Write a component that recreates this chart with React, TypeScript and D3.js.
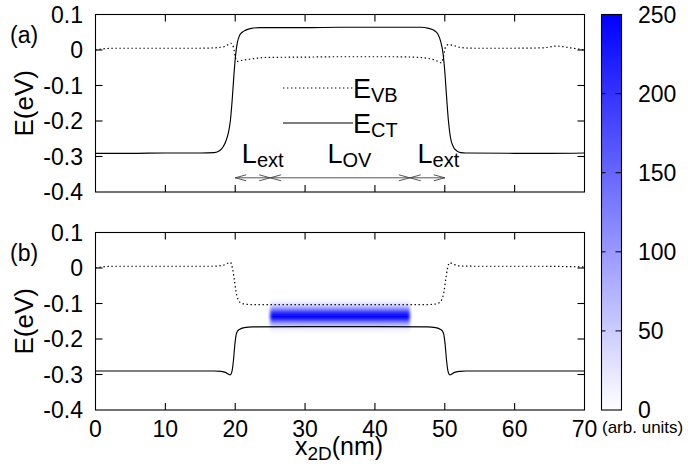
import React from 'react';
import * as d3 from 'd3';

const W = 688;
const H = 466;
const FONT = '"Liberation Sans", Arial, Helvetica, sans-serif';

// axis ticks
const X_TICKS = [0, 10, 20, 30, 40, 50, 60, 70];
const Y_TICKS = [0.1, 0, -0.1, -0.2, -0.3, -0.4];
const Y_TICK_LABELS = ['0.1', '0', '-0.1', '-0.2', '-0.3', '-0.4'];
const CB_TICKS = [0, 50, 100, 150, 200, 250];

// panel (a): conduction-band edge E_CT
const CT_A_X = [0, 5, 10, 15, 17, 17.8, 18.3, 18.7, 19.0, 19.3, 19.55, 19.8, 20.05, 20.3, 20.6, 21.0, 21.5, 22.3, 23.5, 30, 35, 40, 46.5, 47.7, 48.5, 49.0, 49.4, 49.75, 50.0, 50.25, 50.5, 50.8, 51.2, 51.7, 52.3, 53, 60, 65, 70];
const CT_A_Y = [-0.291, -0.291, -0.29, -0.29, -0.289, -0.283, -0.272, -0.255, -0.235, -0.2, -0.145, -0.075, -0.015, 0.02, 0.04, 0.05, 0.056, 0.061, 0.063, 0.063, 0.064, 0.064, 0.064, 0.061, 0.055, 0.045, 0.025, -0.01, -0.06, -0.13, -0.195, -0.245, -0.272, -0.284, -0.289, -0.29, -0.291, -0.291, -0.29];

// panel (a): valence-band edge E_VB
const VB_A_X = [0, 1, 3, 10, 15, 17, 18.5, 19.4, 19.75, 20.0, 20.25, 20.7, 22, 24.5, 30, 35, 42, 45.5, 48.2, 49.0, 49.5, 49.8, 50.1, 50.5, 51.2, 52.3, 54, 60, 64, 66, 68, 70];
const VB_A_Y = [0.0, 0.003, 0.005, 0.005, 0.005, 0.006, 0.01, 0.019, 0.008, -0.018, -0.032, -0.03, -0.026, -0.021, -0.02, -0.019, -0.019, -0.02, -0.026, -0.032, -0.036, -0.02, 0.008, 0.015, 0.013, 0.007, 0.005, 0.005, 0.006, 0.011, 0.006, 0.0];

// panel (b): conduction-band edge E_CT
const CT_B_X = [0, 10, 17, 18.0, 18.6, 19.0, 19.3, 19.55, 19.75, 19.95, 20.2, 20.6, 21.3, 22.5, 30, 35, 40, 47.5, 48.7, 49.4, 49.8, 50.05, 50.25, 50.45, 50.7, 51.0, 51.4, 52.2, 53, 60, 70];
const CT_B_Y = [-0.29, -0.29, -0.29, -0.291, -0.294, -0.299, -0.301, -0.29, -0.26, -0.215, -0.183, -0.173, -0.168, -0.166, -0.165, -0.165, -0.165, -0.166, -0.168, -0.173, -0.183, -0.215, -0.26, -0.29, -0.301, -0.299, -0.294, -0.291, -0.29, -0.29, -0.29];

// panel (b): valence-band edge E_VB
const VB_B_X = [0, 1, 3, 10, 17, 18.3, 19.0, 19.3, 19.6, 19.85, 20.1, 20.4, 20.8, 21.5, 22.5, 30, 35, 40, 47.5, 48.5, 49.2, 49.6, 49.9, 50.15, 50.4, 50.7, 51.2, 52, 54, 63, 70];
const VB_B_Y = [0.0, 0.003, 0.005, 0.005, 0.005, 0.008, 0.014, 0.016, 0.0, -0.03, -0.065, -0.088, -0.098, -0.102, -0.103, -0.103, -0.103, -0.103, -0.103, -0.102, -0.098, -0.088, -0.065, -0.03, 0.0, 0.015, 0.011, 0.006, 0.005, 0.005, 0.003];

// panel (b): carrier density, spread over the overlap region
const DENS_X_RANGE = [25, 45];
const DENS_E = [-0.09, -0.095, -0.1, -0.105, -0.11, -0.115, -0.12, -0.125, -0.13, -0.135, -0.14, -0.145, -0.15, -0.155, -0.16, -0.165, -0.17, -0.175, -0.18];
const DENS_V = [5, 12, 25, 45, 75, 110, 170, 220, 242, 250, 244, 222, 170, 110, 75, 45, 25, 12, 5];

// dimension arrows (nm) and their labels
const ARROW_SEGMENTS: [number, number][] = [[20, 25], [25, 45], [45, 50]];
const ARROW_E = -0.36;
const SPAN_LABELS = [
  { x: 20.95, main: 'L', sub: 'ext' },
  { x: 33.2, main: 'L', sub: 'OV' },
  { x: 46.1, main: 'L', sub: 'ext' },
];

const x = d3.scaleLinear().domain([0, 70]).range([95.5, 584.5]);
const yA = d3.scaleLinear().domain([-0.4, 0.1]).range([192, 14.5]);
const yB = d3.scaleLinear().domain([-0.4, 0.1]).range([410, 232.5]);
const cbY = d3.scaleLinear().domain([0, 250]).range([410, 14.5]);
const colour = d3.scaleLinear<string>().domain([0, 250]).range(['#ffffff', '#0000ff']);

const zip = (xs: number[], ys: number[]) => xs.map((v, i) => [v, ys[i]] as [number, number]);

function curvePath(xs: number[], ys: number[], y: d3.ScaleLinear<number, number>) {
  const gen = d3
    .line<[number, number]>()
    .x((d) => x(d[0]))
    .y((d) => y(d[1]))
    .curve(d3.curveMonotoneX);
  return gen(zip(xs, ys)) || '';
}

const TICK = 7;

function Frame({ y }: { y: d3.ScaleLinear<number, number> }) {
  const [y0, y1] = [y(-0.4), y(0.1)];
  const [x0, x1] = [x(0), x(70)];
  return (
    <g stroke="#000" strokeWidth={1.1} fill="none">
      {X_TICKS.slice(1, -1).map((t) => (
        <g key={'x' + t}>
          <line x1={x(t)} x2={x(t)} y1={y0} y2={y0 - TICK} />
          <line x1={x(t)} x2={x(t)} y1={y1} y2={y1 + TICK} />
        </g>
      ))}
      {Y_TICKS.slice(1, -1).map((t) => (
        <g key={'y' + t}>
          <line x1={x0} x2={x0 + TICK} y1={y(t)} y2={y(t)} />
          <line x1={x1} x2={x1 - TICK} y1={y(t)} y2={y(t)} />
        </g>
      ))}
      <rect x={x0} y={y1} width={x1 - x0} height={y0 - y1} />
    </g>
  );
}

function YLabels({ y, panel }: { y: d3.ScaleLinear<number, number>; panel: string }) {
  const mid = (y(-0.4) + y(0.1)) / 2;
  return (
    <g fontFamily={FONT} fill="#000">
      {Y_TICKS.map((t, i) => (
        <text key={t} x={83} y={y(t) + 8} fontSize={23} textAnchor="end">
          {Y_TICK_LABELS[i]}
        </text>
      ))}
      <text transform={`translate(33,${mid}) rotate(-90)`} fontSize={26} textAnchor="middle">
        E(eV)
      </text>
      <text x={10} y={y(0.1) + 28} fontSize={23}>
        {panel}
      </text>
    </g>
  );
}

function Curves({ y, ct, vb }: { y: d3.ScaleLinear<number, number>; ct: [number[], number[]]; vb: [number[], number[]] }) {
  return (
    <g fill="none" stroke="#000">
      <path d={curvePath(vb[0], vb[1], y)} strokeWidth={1.2} strokeDasharray="1.4 2.6" />
      <path d={curvePath(ct[0], ct[1], y)} strokeWidth={1.15} />
    </g>
  );
}

function Arrowhead({ px, py, dir }: { px: number; py: number; dir: number }) {
  const len = 11;
  const half = 3;
  return (
    <path
      d={`M${px + dir * len},${py - half} L${px},${py} L${px + dir * len},${py + half}`}
      fill="none"
      stroke="#444"
      strokeWidth={0.9}
    />
  );
}

function Density() {
  const rowH = Math.abs(yB(0) - yB(0.005));
  return (
    <g filter="url(#soft)">
      {DENS_E.map((e, i) => (
        <rect
          key={e}
          x={x(DENS_X_RANGE[0])}
          width={x(DENS_X_RANGE[1]) - x(DENS_X_RANGE[0])}
          y={yB(e) - rowH / 2}
          height={rowH + 0.3}
          fill={colour(DENS_V[i])}
        />
      ))}
    </g>
  );
}

function ColourBar() {
  const bx = 601.5;
  const bw = 20;
  return (
    <g>
      <defs>
        <linearGradient id="cbGrad" x1="0" y1="1" x2="0" y2="0">
          {CB_TICKS.map((t) => (
            <stop key={t} offset={t / 250} stopColor={colour(t)} />
          ))}
        </linearGradient>
      </defs>
      <rect x={bx} y={cbY(250)} width={bw} height={cbY(0) - cbY(250)} fill="url(#cbGrad)" />
      <g stroke="#000" strokeWidth={1}>
        {CB_TICKS.slice(1, -1).map((t) => (
          <g key={t}>
            <line x1={bx} x2={bx + 4} y1={cbY(t)} y2={cbY(t)} />
            <line x1={bx + bw} x2={bx + bw - 6} y1={cbY(t)} y2={cbY(t)} />
          </g>
        ))}
      </g>
      <rect x={bx} y={cbY(250)} width={bw} height={cbY(0) - cbY(250)} fill="none" stroke="#000" strokeWidth={1.1} />
      <g fontFamily={FONT} fontSize={23} fill="#000">
        {CB_TICKS.map((t) => (
          <text key={t} x={638} y={cbY(t) + 8}>
            {t}
          </text>
        ))}
        <text x={602} y={433} fontSize={17}>
          (arb. units)
        </text>
      </g>
    </g>
  );
}

export default function App() {
  const arrowY = yA(ARROW_E);
  return (
    <svg width={W} height={H} viewBox={`0 0 ${W} ${H}`} style={{ position: 'absolute', left: 0, top: 0, background: '#fff' }}>
      <defs>
        <filter id="soft" x="-10%" y="-60%" width="120%" height="220%">
          <feGaussianBlur stdDeviation="1.8" />
        </filter>
      </defs>
      <rect width={W} height={H} fill="#fff" />

      {/* panel (a) */}
      <Curves y={yA} ct={[CT_A_X, CT_A_Y]} vb={[VB_A_X, VB_A_Y]} />
      <Frame y={yA} />
      <YLabels y={yA} panel="(a)" />

      {/* legend */}
      <g stroke="#000" fill="none">
        <line x1={283} x2={353} y1={88} y2={88} strokeWidth={1.2} strokeDasharray="1.4 2.6" />
        <line x1={283} x2={353} y1={123} y2={123} strokeWidth={1.15} />
      </g>
      <g fontFamily={FONT} fill="#000">
        <text x={353} y={98} fontSize={27}>
          E<tspan fontSize={20} dy={4}>VB</tspan>
        </text>
        <text x={353} y={133} fontSize={27}>
          E<tspan fontSize={20} dy={4}>CT</tspan>
        </text>
      </g>

      {/* dimension arrows */}
      <g>
        {ARROW_SEGMENTS.map(([a, b]) => (
          <g key={a + '-' + b}>
            <line x1={x(a)} x2={x(b)} y1={arrowY} y2={arrowY} stroke="#444" strokeWidth={0.9} />
            <Arrowhead px={x(a)} py={arrowY} dir={1} />
            <Arrowhead px={x(b)} py={arrowY} dir={-1} />
          </g>
        ))}
      </g>
      <g fontFamily={FONT} fill="#000">
        {SPAN_LABELS.map((l, i) => (
          <text key={i} x={x(l.x)} y={163} fontSize={27}>
            {l.main}
            <tspan fontSize={20} dy={4}>{l.sub}</tspan>
          </text>
        ))}
      </g>

      {/* panel (b) */}
      <Density />
      <Curves y={yB} ct={[CT_B_X, CT_B_Y]} vb={[VB_B_X, VB_B_Y]} />
      <Frame y={yB} />
      <YLabels y={yB} panel="(b)" />

      {/* shared x axis labels */}
      <g fontFamily={FONT} fill="#000">
        {X_TICKS.map((t) => (
          <text key={t} x={x(t)} y={437} fontSize={23} textAnchor="middle">
            {t}
          </text>
        ))}
        <text x={339} y={455} fontSize={25} textAnchor="middle">
          x<tspan fontSize={19} dy={5}>2D</tspan>
          <tspan dy={-5}>(nm)</tspan>
        </text>
      </g>

      <ColourBar />
    </svg>
  );
}
